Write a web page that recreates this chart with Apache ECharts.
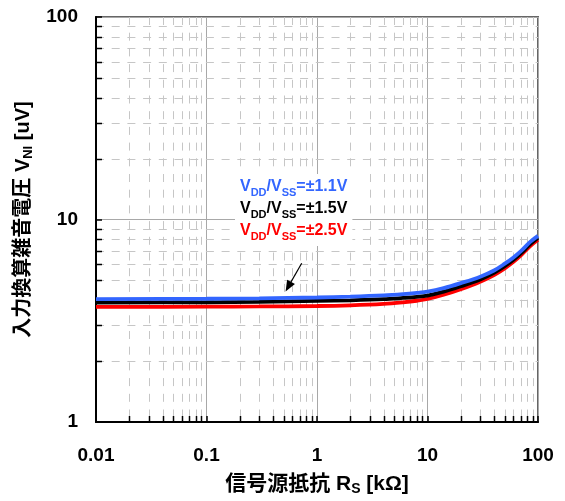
<!DOCTYPE html>
<html>
<head>
<meta charset="utf-8">
<script src="https://cdn.jsdelivr.net/npm/echarts@6/dist/echarts.min.js"></script>
<style>html,body{margin:0;padding:0;background:#fff}#c{width:565px;height:501px}</style>
</head>
<body>
<div id="c"></div>
<script>
// Source resistance Rs [kΩ]
const rs = [0.01, 0.1, 0.3, 1, 2, 4, 6, 8, 10, 14, 20, 30, 40, 50, 60, 70, 85, 100];
// Input-referred noise voltage VNI [uV]
const vni_11 = [4.04, 4.06, 4.08, 4.12, 4.16, 4.22, 4.28, 4.34, 4.40, 4.58, 4.85, 5.22, 5.60, 6.05, 6.50, 6.98, 7.75, 8.30];
const vni_15 = [3.89, 3.90, 3.92, 3.96, 3.99, 4.04, 4.10, 4.15, 4.21, 4.40, 4.68, 5.06, 5.45, 5.88, 6.32, 6.80, 7.55, 8.12];
const vni_25 = [3.70, 3.71, 3.72, 3.74, 3.77, 3.83, 3.90, 3.97, 4.05, 4.25, 4.53, 4.93, 5.32, 5.74, 6.18, 6.65, 7.40, 7.95];
const seriesNames = ['±1.1V', '±1.5V', '±2.5V'];
const xTickLabels = ['0.01', '0.1', '1', '10', '100'];
const yTickLabels = ['1', '10', '100'];
// minor grid positions (2..9 in each decade)
const xDecades = [0.01, 0.1, 1, 10];
const yDecades = [1, 10];
const minorDigits = [2, 3, 4, 5, 6, 7, 8, 9];
// arrow annotation endpoints [Rs, VNI]
const arrowFrom = [0.727, 6.08];
const arrowTo = [0.55, 4.66];

const xMinor = [];
xDecades.forEach(d => minorDigits.forEach(m => xMinor.push([+(d * m).toPrecision(3), 1])));
const yMinor = [];
yDecades.forEach(d => minorDigits.forEach(m => yMinor.push([0.01, +(d * m).toPrecision(3)])));

const FONT = '"Liberation Sans", Arial, "Noto Sans CJK JP", sans-serif';
const CJK = '"Liberation Sans", Arial, "Noto Sans CJK JP", sans-serif';
const minorColor = '#c6c6c6';

function crisp(v) { return Math.round(v) + 0.5; }

function renderMinorX(params, api) {
  const v = api.value(0);
  const p0 = api.coord([v, 1]);
  const p1 = api.coord([v, 100]);
  const x = crisp(p0[0]);
  return {
    type: 'group',
    children: [
      { type: 'line', shape: { x1: x, y1: p1[1], x2: x, y2: p0[1] }, style: { stroke: minorColor, lineWidth: 1, lineDash: [8, 7.7] } },
      { type: 'line', shape: { x1: x, y1: p0[1], x2: x, y2: p0[1] - 6 }, style: { stroke: '#000', lineWidth: 1.5 } }
    ]
  };
}
function renderMinorY(params, api) {
  const v = api.value(1);
  const p0 = api.coord([0.01, v]);
  const p1 = api.coord([100, v]);
  const y = crisp(p0[1]);
  return {
    type: 'group',
    children: [
      { type: 'line', shape: { x1: p0[0], y1: y, x2: p1[0], y2: y }, style: { stroke: minorColor, lineWidth: 1, lineDash: [8, 7.7] } },
      { type: 'line', shape: { x1: p0[0], y1: y, x2: p0[0] + 6, y2: y }, style: { stroke: '#000', lineWidth: 1.5 } }
    ]
  };
}

const chart = echarts.init(document.getElementById('c'), null, { renderer: 'canvas' });

function lineSeries(name, vals, color, z) {
  return {
    name: name,
    type: 'line',
    data: rs.map((x, i) => [x, vals[i]]),
    smooth: 0.35,
    showSymbol: false,
    symbol: 'none',
    lineStyle: { color: color, width: 3.8 },
    itemStyle: { color: color },
    z: z,
    animation: false
  };
}

const sRed = lineSeries(seriesNames[2], vni_25, '#ff0000', 3);
const sBlack = lineSeries(seriesNames[1], vni_15, '#000000', 4);
const sBlue = lineSeries(seriesNames[0], vni_11, '#3366ff', 5);
sBlue.markLine = {
  silent: true,
  animation: false,
  symbol: ['none', 'triangle'],
  symbolSize: [9, 11],
  label: { show: false },
  lineStyle: { color: '#000', width: 1.2, type: 'solid' },
  data: [[{ coord: arrowFrom }, { coord: arrowTo }]]
};

function tok(c, size, sub) {
  const t = { fill: c, fontSize: size, fontWeight: 'bold', fontFamily: FONT, lineHeight: sub ? 12 : 22 };
  if (sub) t.verticalAlign = 'bottom';
  return t;
}
const legendRich = {
  b: tok('#3366ff', 16, false), bs: tok('#3366ff', 11, true),
  k: tok('#000000', 16, false), ks: tok('#000000', 11, true),
  r: tok('#ff0000', 16, false), rs: tok('#ff0000', 11, true)
};
function legLine(c, v) {
  return '{' + c + '|V}{' + c + 's|DD}{' + c + '|/V}{' + c + 's|SS}{' + c + '|=' + v + '}';
}
const legendText = [legLine('b', seriesNames[0]), legLine('k', seriesNames[1]), legLine('r', seriesNames[2])].join('\n');

const option = {
  backgroundColor: '#fff',
  animation: false,
  grid: { left: 96, top: 17, right: 27, bottom: 79, show: true, borderColor: '#666', borderWidth: 2, backgroundColor: 'transparent', containLabel: false, outerBoundsMode: 'none' },
  xAxis: {
    type: 'log', logBase: 10, min: 0.01, max: 100,
    name: '{a|信号源抵抗 R}{s|S}{a| [kΩ]}',
    nameLocation: 'middle', nameGap: 50,
    nameTextStyle: {
      rich: {
        a: { fontSize: 21, fontWeight: 'bold', fontFamily: CJK, color: '#000', lineHeight: 24 },
        s: { fontSize: 14, fontWeight: 'bold', fontFamily: CJK, color: '#000', lineHeight: 17, verticalAlign: 'bottom' }
      }
    },
    axisLine: { show: true, lineStyle: { color: '#000', width: 2 } },
    axisTick: { show: true, inside: true, length: 6, lineStyle: { color: '#000', width: 1.5 } },
    axisLabel: {
      margin: 24, fontSize: 19, fontWeight: 'bold', fontFamily: FONT, color: '#000',
      formatter: function (v) { const i = xTickLabels.indexOf(String(+v.toPrecision(3))); return i >= 0 ? xTickLabels[i] : ''; }
    },
    splitLine: { show: true, lineStyle: { color: '#a8a8a8', width: 1 } }
  },
  yAxis: {
    type: 'log', logBase: 10, min: 1, max: 100,
    name: '{a|入力換算雑音電圧 V}{s|NI}{a| [uV]}',
    nameLocation: 'middle', nameGap: 53, nameRotate: 90,
    nameTextStyle: {
      rich: {
        a: { fontSize: 20, fontWeight: 'bold', fontFamily: CJK, color: '#000', lineHeight: 23 },
        s: { fontSize: 13, fontWeight: 'bold', fontFamily: CJK, color: '#000', lineHeight: 17, verticalAlign: 'bottom' }
      }
    },
    axisLine: { show: true, lineStyle: { color: '#000', width: 2 } },
    axisTick: { show: true, inside: true, length: 6, lineStyle: { color: '#000', width: 1.5 } },
    axisLabel: {
      margin: 18, fontSize: 19, fontWeight: 'bold', fontFamily: FONT, color: '#000',
      formatter: function (v) { const i = yTickLabels.indexOf(String(+v.toPrecision(3))); return i >= 0 ? yTickLabels[i] : ''; }
    },
    splitLine: { show: true, lineStyle: { color: '#a8a8a8', width: 1 } }
  },
  graphic: [{
    type: 'text',
    left: 240 - 5,
    top: 174,
    z: 50,
    style: {
      text: legendText,
      rich: legendRich,
      align: 'left',
      backgroundColor: '#fff',
      padding: [2, 5, 4, 5]
    }
  }],
  series: [
    { type: 'custom', data: xMinor, renderItem: renderMinorX, silent: true, z: 1, animation: false, clip: false },
    { type: 'custom', data: yMinor, renderItem: renderMinorY, silent: true, z: 1, animation: false, clip: false },
    sRed, sBlack, sBlue
  ]
};
chart.setOption(option);
</script>
</body>
</html>
